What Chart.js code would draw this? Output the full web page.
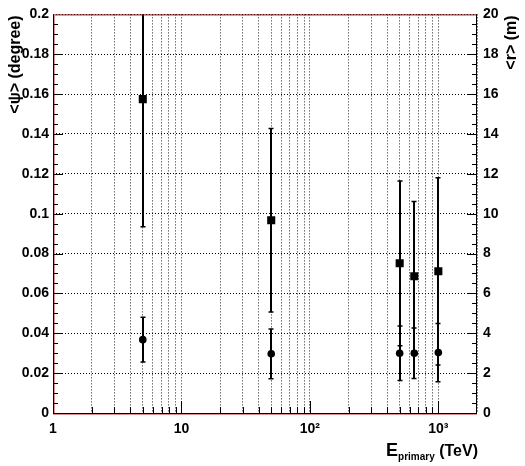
<!DOCTYPE html>
<html><head><meta charset="utf-8">
<script src="https://cdn.jsdelivr.net/npm/chart.js@4/dist/chart.umd.min.js"></script>
<style>html,body{margin:0;padding:0;background:#fff;}canvas{display:block;}</style>
</head><body>
<canvas id="c" width="525" height="466"></canvas>
<script>
// ---- data ----
const energies = [5, 50, 500, 650, 1000];              // E_primary (TeV)
const rMean = [15.75, 9.67, 7.51, 6.86, 7.11];          // squares, <r> (m), right axis
const rErr  = [6.4, 4.6, 4.13, 3.75, 4.7];
const psiMean = [0.0368, 0.0297, 0.0300, 0.0300, 0.0303]; // circles, <psi> (degree), left axis
const psiErr  = [0.0112, 0.0125, 0.0137, 0.0127, 0.0146];
const xMajorTicks = [1, 10, 100, 1000];
const xTickLabels = ['1', '10', '10\u00B2', '10\u00B3'];
const yTickValues = [0, 0.02, 0.04, 0.06, 0.08, 0.1, 0.12, 0.14, 0.16, 0.18, 0.2];
const yTickLabels = ['0', '0.02', '0.04', '0.06', '0.08', '0.1', '0.12', '0.14', '0.16', '0.18', '0.2'];
const y2TickValues = [0, 2, 4, 6, 8, 10, 12, 14, 16, 18, 20];
const y2TickLabels = ['0', '2', '4', '6', '8', '10', '12', '14', '16', '18', '20'];
const xMin = 1, xMax = 2000;

const FAM = '"Liberation Sans", Arial, Helvetica, sans-serif';
// grid positions for a log axis: 1..9 x 10^n
const xGridValues = [];
for (let d = 0; d < 4; d++) for (let m = 1; m <= 9; m++) { const v = m * Math.pow(10, d); if (v >= xMin && v <= xMax) xGridValues.push(v); }

const errorSets = [
  { datasetIndex: 0, err: rErr },
  { datasetIndex: 1, err: psiErr }
];

const rootStyle = {
  id: 'rootStyle',
  beforeDatasetsDraw(chart) {
    const ctx = chart.ctx, a = chart.chartArea, xs = chart.scales.x;
    ctx.save();
    ctx.beginPath(); ctx.rect(a.left, a.top, a.right - a.left, a.bottom - a.top); ctx.clip();
    ctx.strokeStyle = '#000';
    errorSets.forEach(es => {
      const ds = chart.data.datasets[es.datasetIndex];
      const ys = chart.scales[ds.yAxisID];
      ds.data.forEach((p, j) => {
        const px = Math.round(xs.getPixelForValue(p.x));
        const y1 = ys.getPixelForValue(p.y - es.err[j]);
        const y2 = ys.getPixelForValue(p.y + es.err[j]);
        ctx.lineWidth = 2;
        ctx.beginPath(); ctx.moveTo(px, y1); ctx.lineTo(px, y2); ctx.stroke();
        ctx.lineWidth = 1.5;
        ctx.beginPath();
        ctx.moveTo(px - 2.5, y1); ctx.lineTo(px + 2.5, y1);
        ctx.moveTo(px - 2.5, y2); ctx.lineTo(px + 2.5, y2);
        ctx.stroke();
      });
    });
    ctx.restore();
  },
  afterDraw(chart) {
    const ctx = chart.ctx, a = chart.chartArea, xs = chart.scales.x, ys = chart.scales.y;
    ctx.save();
    // frame
    ctx.lineWidth = 1;
    ctx.strokeStyle = '#7a1010';
    ctx.beginPath(); ctx.moveTo(a.left, a.top + 0.5); ctx.lineTo(a.right, a.top + 0.5); ctx.stroke();
    ctx.strokeStyle = '#e09090';
    ctx.beginPath(); ctx.moveTo(a.left, a.bottom + 1.5); ctx.lineTo(a.right, a.bottom + 1.5);
    ctx.moveTo(a.left + 1.5, a.top); ctx.lineTo(a.left + 1.5, a.bottom); ctx.stroke();
    ctx.strokeStyle = '#000';
    ctx.beginPath();
    ctx.moveTo(a.left + 0.5, a.top); ctx.lineTo(a.left + 0.5, a.bottom + 1);
    ctx.moveTo(a.left, a.bottom + 0.5); ctx.lineTo(a.right, a.bottom + 0.5);
    ctx.moveTo(a.right - 0.5, a.top); ctx.lineTo(a.right - 0.5, a.bottom + 1);
    ctx.stroke();
    // x ticks (inward)
    ctx.beginPath();
    xGridValues.forEach(v => {
      if (v === xMin || v === xMax) return;
      const px = Math.round(xs.getPixelForValue(v)) + 0.5;
      const len = xMajorTicks.includes(v) ? 12 : 6;
      ctx.moveTo(px, a.bottom); ctx.lineTo(px, a.bottom - len);
    });
    // y ticks left and right (inward)
    for (let k = 1; k < 40; k++) {
      const py = Math.round(ys.getPixelForValue(k * 0.005)) + 0.5;
      const len = k % 4 === 0 ? 10 : 5;
      ctx.moveTo(a.left, py); ctx.lineTo(a.left + len, py);
      ctx.moveTo(a.right, py); ctx.lineTo(a.right - len, py);
    }
    ctx.stroke();
    // axis titles
    ctx.fillStyle = '#000';
    ctx.font = 'bold 16px ' + FAM;
    ctx.textBaseline = 'middle';
    ctx.textAlign = 'right';
    ctx.save(); ctx.translate(16, a.top + 1); ctx.rotate(-Math.PI / 2); ctx.fillText('<\u03C8> (degree)', 0, 0); ctx.restore();
    ctx.save(); ctx.translate(512, a.top + 1); ctx.rotate(-Math.PI / 2); ctx.fillText('<r> (m)', 0, 0); ctx.restore();
    // x title: E_primary (TeV), right aligned
    ctx.textBaseline = 'alphabetic';
    ctx.textAlign = 'left';
    const right = a.right + 1, base = 456;
    ctx.font = 'bold 16px ' + FAM; const wT = ctx.measureText(' (TeV)').width;
    ctx.font = 'bold 10px ' + FAM; const wS = ctx.measureText('primary').width;
    ctx.font = 'bold 18px ' + FAM; const wE = ctx.measureText('E').width;
    let x0 = right - wT - wS - wE;
    ctx.font = 'bold 18px ' + FAM; ctx.fillText('E', x0, base);
    ctx.font = 'bold 10px ' + FAM; ctx.fillText('primary', x0 + wE, base + 4);
    ctx.font = 'bold 16px ' + FAM; ctx.fillText(' (TeV)', x0 + wE + wS, base);
    ctx.restore();
  }
};

const tickFont = { family: FAM, size: 14, weight: 'bold' };

new Chart(document.getElementById('c'), {
  type: 'scatter',
  data: {
    datasets: [
      { label: '<r>', data: energies.map((e, i) => ({ x: e, y: rMean[i] })), yAxisID: 'y2',
        pointStyle: 'rect', pointRadius: 5.7, backgroundColor: '#000', borderColor: '#000', borderWidth: 0, showLine: false },
      { label: '<psi>', data: energies.map((e, i) => ({ x: e, y: psiMean[i] })), yAxisID: 'y',
        pointStyle: 'circle', pointRadius: 3.8, backgroundColor: '#000', borderColor: '#000', borderWidth: 0, showLine: false }
    ]
  },
  options: {
    responsive: false, devicePixelRatio: 1, animation: false,
    layout: { padding: { top: 4, left: 0, right: 0, bottom: 0 } },
    plugins: { legend: { display: false }, tooltip: { enabled: false } },
    scales: {
      x: {
        type: 'logarithmic', position: 'bottom', min: xMin, max: xMax,
        afterBuildTicks: s => { s.ticks = xGridValues.map(v => ({ value: v })); },
        afterFit: s => { s.height = 53; },
        ticks: { autoSkip: false, maxRotation: 0, minRotation: 0, padding: 8, color: '#000', font: tickFont,
          callback: v => { const k = xMajorTicks.indexOf(v); return k >= 0 ? xTickLabels[k] : ''; } },
        grid: { color: '#222', lineWidth: 1, drawTicks: false },
        border: { display: false, dash: [1, 2] }
      },
      y: {
        type: 'linear', position: 'left', min: 0, max: 0.2,
        afterBuildTicks: s => { s.ticks = yTickValues.map(v => ({ value: v })); },
        afterFit: s => { s.width = 53; },
        ticks: { padding: 4, color: '#000', font: tickFont,
          callback: (v, i) => yTickLabels[i] },
        grid: { color: '#000', lineWidth: 1, drawTicks: false },
        border: { display: false, dash: [1, 2] }
      },
      y2: {
        type: 'linear', position: 'right', min: 0, max: 20,
        afterBuildTicks: s => { s.ticks = y2TickValues.map(v => ({ value: v })); },
        afterFit: s => { s.width = 48; },
        ticks: { padding: 6, color: '#000', font: tickFont,
          callback: (v, i) => y2TickLabels[i] },
        grid: { drawOnChartArea: false, drawTicks: false },
        border: { display: false }
      }
    }
  },
  plugins: [rootStyle]
});
</script>
</body></html>
